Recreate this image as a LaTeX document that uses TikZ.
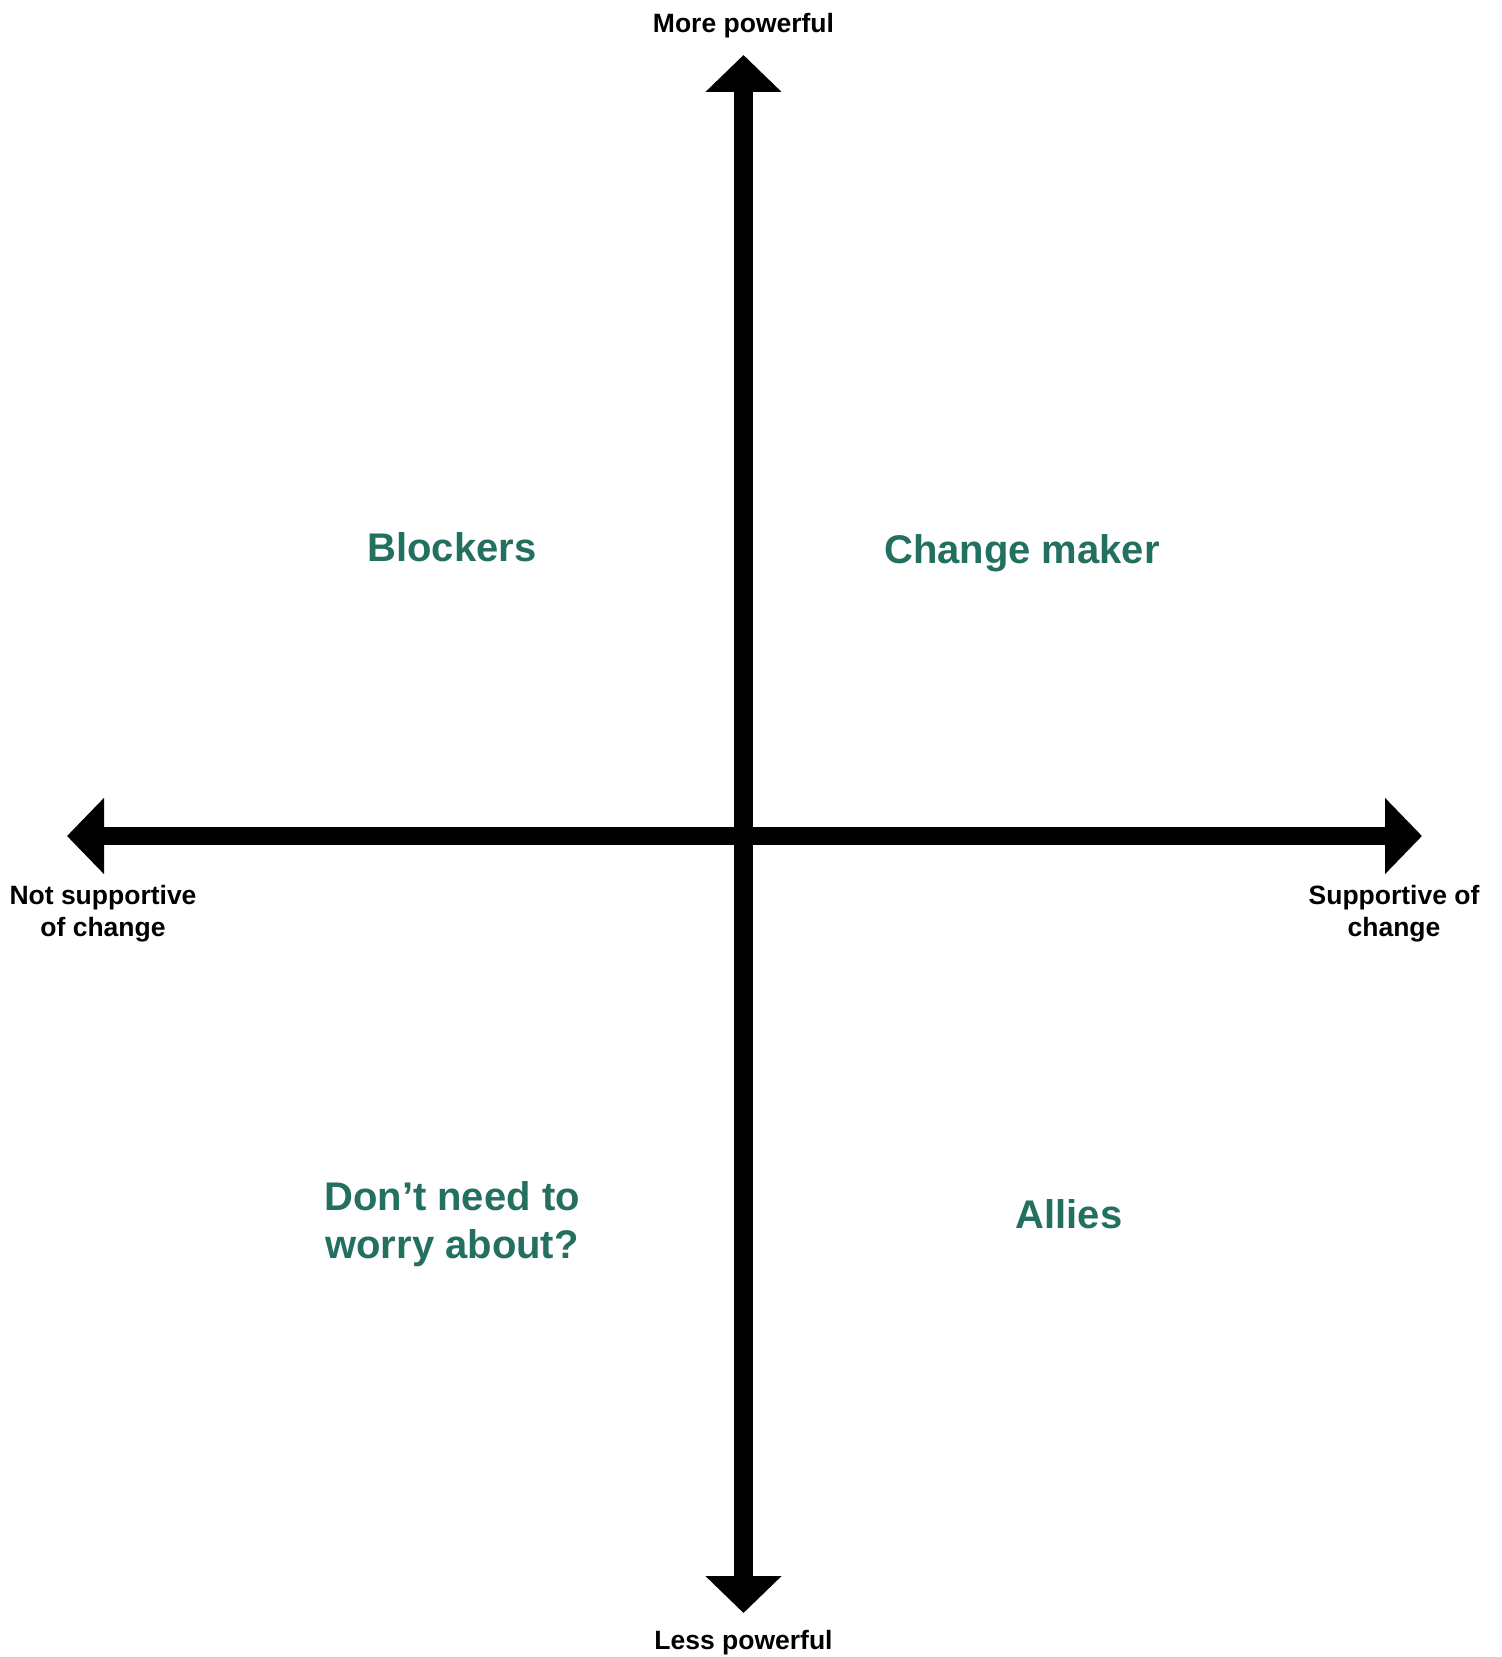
\documentclass[tikz,border=0pt]{standalone}
\usepackage{fontspec}
\setmainfont{Liberation Sans}
\usetikzlibrary{arrows.meta}
\definecolor{quadteal}{RGB}{36,112,96}
\begin{document}
\begin{tikzpicture}[x=0.5pt,y=-0.5pt,
  axis/.style={line width=9.25pt,{Triangle[width=37pt,length=18.5pt]}-{Triangle[width=37pt,length=18.5pt]}},
  axislabel/.style={font=\bfseries\fontsize{13.25pt}{15.85pt}\selectfont,align=center,inner sep=0pt},
  quadlabel/.style={font=\bfseries\fontsize{20pt}{24.3pt}\selectfont,text=quadteal,align=center,inner sep=0pt}]
\useasboundingbox (0,0) rectangle (1501,1657);
% axis end points
\coordinate (top) at (743.5,55);
\coordinate (bottom) at (743.5,1613);
\coordinate (left) at (67,836);
\coordinate (right) at (1422,836);
% axes
\draw[axis] (bottom) -- (top);
\draw[axis] (left) -- (right);
% axis labels
\node[axislabel] (more) at (743.5,26) {More powerful};
\node[axislabel] (less) at (743.5,1643) {Less powerful};
\node[axislabel] (notsup) at (103,914) {Not supportive\\of change};
\node[axislabel] (sup) at (1394,914) {Supportive of\\change};
% quadrant labels
\node[quadlabel] (blockers) at (452,547) {Blockers};
\node[quadlabel] (changemaker) at (1022,553) {Change maker};
\node[quadlabel] (dontworry) at (452,1224) {Don’t need to\\worry about?};
\node[quadlabel] (allies) at (1069,1214) {Allies};
\end{tikzpicture}
\end{document}
